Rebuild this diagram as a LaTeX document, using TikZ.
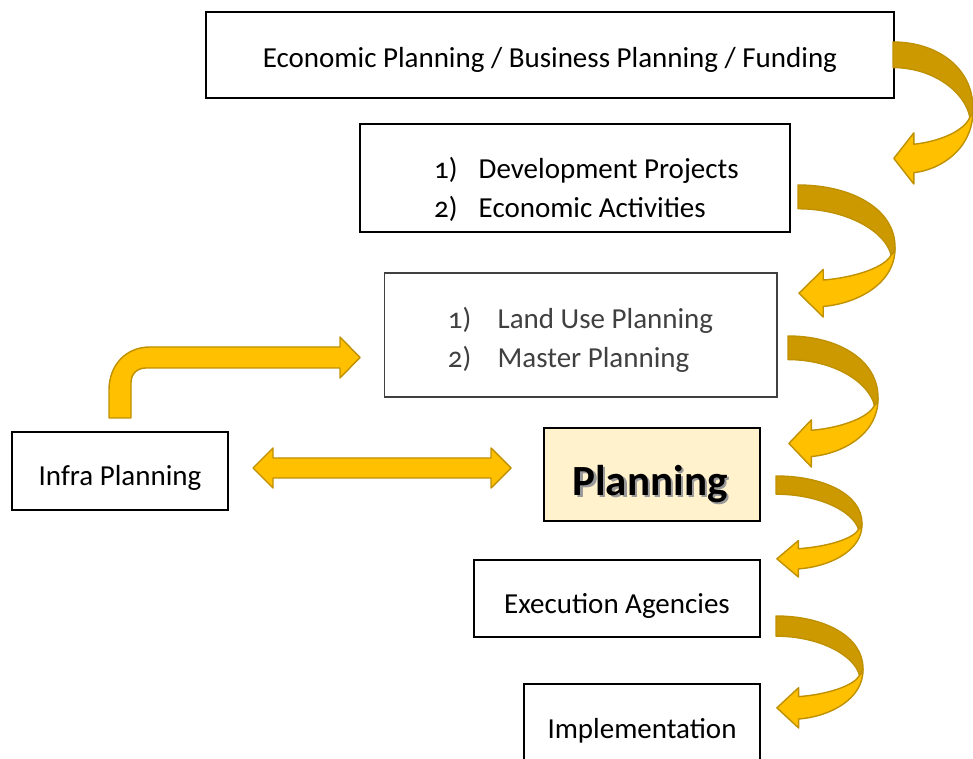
\documentclass[tikz,border=0pt]{standalone}
\usepackage{fontspec}
\setmainfont{Carlito}[Numbers=OldStyle]
\usetikzlibrary{positioning}
\definecolor{gold}{HTML}{FFC000}
\definecolor{darkgold}{HTML}{CC9A00}
\definecolor{goldline}{HTML}{BF9000}
\definecolor{paleyellow}{HTML}{FFF2CC}
\definecolor{textgray}{HTML}{404040}
\tikzset{
  box/.style={draw, line width=0.9pt, inner sep=0pt, align=center,
    font=\fontsize{16.5}{22.5}\selectfont},
  block/.style={fill=gold, draw=goldline, line width=0.8pt, line join=round},
  backside/.style={fill=darkgold, draw=goldline, line width=0.8pt, line join=round},
}
% lower the text of a box without changing its size
\newcommand{\dropby}[2]{\raisebox{-#1}[\height][\depth]{#2}}
% curved block arrow: start x, top y, width, height (in pixels)
\newcommand{\turnarrow}[4]{%
  \begin{scope}[shift={(#1,#2)}, xscale=#3/100, yscale=#4/100]
    \draw[backside] (0,0) .. controls (55,0) and (100,18) .. (100,47)
      .. controls (100,50) and (99,52) .. (96,53)
      .. controls (90,35) and (50,18) .. (0,18) -- cycle;
    \draw[block] (100,47) .. controls (101,75) and (60,90) .. (26,92)
      -- (26,100) -- (1,82) -- (26,64) -- (26,72)
      .. controls (60,70) and (90,62) .. (96,53)
      .. controls (99,52) and (100,50) .. (100,47) -- cycle;
  \end{scope}}
\begin{document}
\begin{tikzpicture}[x=0.02cm, y=-0.02cm]
  \useasboundingbox (0,0) rectangle (973,759);
  % boxes
  \node[box, minimum width=13.76cm, minimum height=1.72cm] (econ) at (550,55)
    {\dropby{2.8pt}{Economic Planning / Business Planning / Funding}};
  \node[box, minimum width=8.6cm, minimum height=2.16cm] (dev) at (575,178)
    {\dropby{6.8pt}{\hspace*{13pt}\begin{tabular}{@{}l@{\hspace{12pt}}l@{}}
      1) & Development Projects\\
      2) & Economic Activities
    \end{tabular}}};
  \node[box, draw=textgray, line width=0.6pt, text=textgray,
    minimum width=7.86cm, minimum height=2.48cm] (land) at (580.5,335)
    {\dropby{2.8pt}{\begin{tabular}{@{}l@{\hspace{15pt}}l@{}}
      1) & Land Use Planning\\
      2) & Master Planning
    \end{tabular}}};
  \node[box, minimum width=4.32cm, minimum height=1.56cm] (infra) at (120,471)
    {\dropby{4pt}{Infra Planning}};
  \node[box, fill=paleyellow, minimum width=4.32cm, minimum height=1.86cm] (plan)
    at (652,474.5) {};
  \node[text=black!40, font=\fontsize{24.5}{28}\selectfont\bfseries] (planshadow)
    at (652.5,486.5) {Planning};
  \node[font=\fontsize{24.5}{28}\selectfont\bfseries] (plantext)
    at (650,484) {Planning};
  \node[box, minimum width=5.72cm, minimum height=1.54cm] (exec) at (617,598.5)
    {\dropby{4pt}{Execution Agencies}};
  \node[box, minimum width=4.72cm, minimum height=1.72cm] (impl) at (642,727)
    {\dropby{2.3pt}{Implementation}};
  % block arrows
  \draw[block] (109,418) -- (109,390) .. controls (109,365) and (126,347) .. (150,347)
    -- (340,347) -- (340,337) -- (360,357.5) -- (340,378) -- (340,368) -- (146,368)
    .. controls (137,368) and (131,374) .. (131,383) -- (131,418) -- cycle;
  \draw[block] (253,468) -- (273,448) -- (273,458) -- (491,458) -- (491,448)
    -- (511,468) -- (491,488) -- (491,478) -- (273,478) -- (273,488) -- cycle;
  \turnarrow{893}{42}{80}{142}
  \turnarrow{798}{185}{97}{132}
  \turnarrow{788}{336}{90}{131}
  \turnarrow{776}{476}{86}{101}
  \turnarrow{776}{616}{87}{112}
\end{tikzpicture}
\end{document}
